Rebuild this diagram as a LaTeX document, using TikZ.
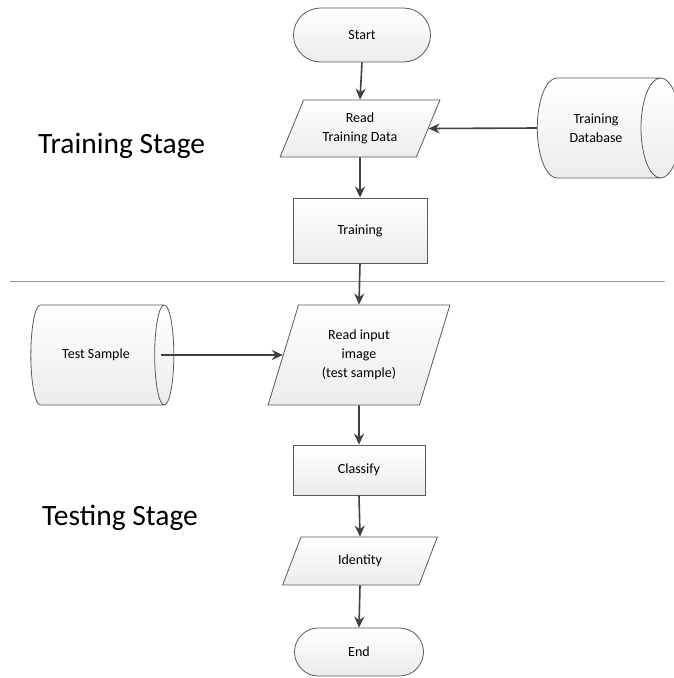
\documentclass[tikz,border=0pt]{standalone}
\usepackage{fontspec}
\setmainfont{Carlito}
\usepackage{tikz}
\usetikzlibrary{shapes.geometric,shapes.misc,arrows.meta}

\begin{document}
\begin{tikzpicture}[x=1pt,y=1pt,
	box/.style={draw=gray!70!black,line width=0.8pt,top color=white,bottom color=gray!15,
		font=\fontsize{14}{19}\selectfont,align=center,inner sep=2pt},
	term/.style={box,rounded rectangle},
	proc/.style={box,rectangle},
	io/.style={box,trapezium,trapezium stretches=true,trapezium left angle=65,trapezium right angle=115},
	store/.style={box,cylinder,aspect=1.2,minimum width=100pt,minimum height=143pt},
	flow/.style={draw=black!75,line width=1.6pt,-{Stealth[length=11pt,width=10pt]}},
	stage/.style={font=\fontsize{29.5}{34}\selectfont,text=black,anchor=base west,inner sep=0pt}]
	\useasboundingbox (0,0) rectangle (673,-678);
	% training part
	\node[term,minimum width=141pt,minimum height=54pt] at (362,-35) (start) {Start};
	\node[io,minimum width=160pt,minimum height=57pt] at (360,-128.5) (readtrain) {Read\\Training Data};
	\node[store] at (596,-128) (db) {Training\\Database};
	\node[proc,minimum width=134pt,minimum height=65pt] at (360,-230.5) (train) {Training};
	\node[stage] at (38,-153) (trainlbl) {Training Stage};
	% stage border
	\draw[gray!80,line width=0.8pt] (10,-281) -- (665,-281);
	% testing part
	\node[io,trapezium left angle=70,trapezium right angle=110,minimum width=182pt,minimum height=100pt]
		at (359,-355) (readtest) {Read input\\image\\(test sample)};
	\node[store] at (96,-355) (sample) {Test Sample};
	\node[proc,minimum width=132pt,minimum height=50pt] at (359,-470) (classify) {Classify};
	\node[io,minimum width=155pt,minimum height=48pt] at (360,-561) (ident) {Identity};
	\node[term,minimum width=133pt,minimum height=48pt] at (359,-652) (end) {End};
	\node[stage] at (42,-525) (testlbl) {Testing Stage};
	% arrows
	\draw[flow] (start.south) -- (readtrain.north);
	\draw[flow] (db.west) -- (readtrain.east);
	\draw[flow] (readtrain.south) -- (train.north);
	\draw[flow] (train.south) -- (readtest.north);
	\draw[flow] ([xshift=-13pt]sample.east) -- (readtest.west);
	\draw[flow] (readtest.south) -- (classify.north);
	\draw[flow] (classify.south) -- (ident.north);
	\draw[flow] (ident.south) -- (end.north);
\end{tikzpicture}
\end{document}
